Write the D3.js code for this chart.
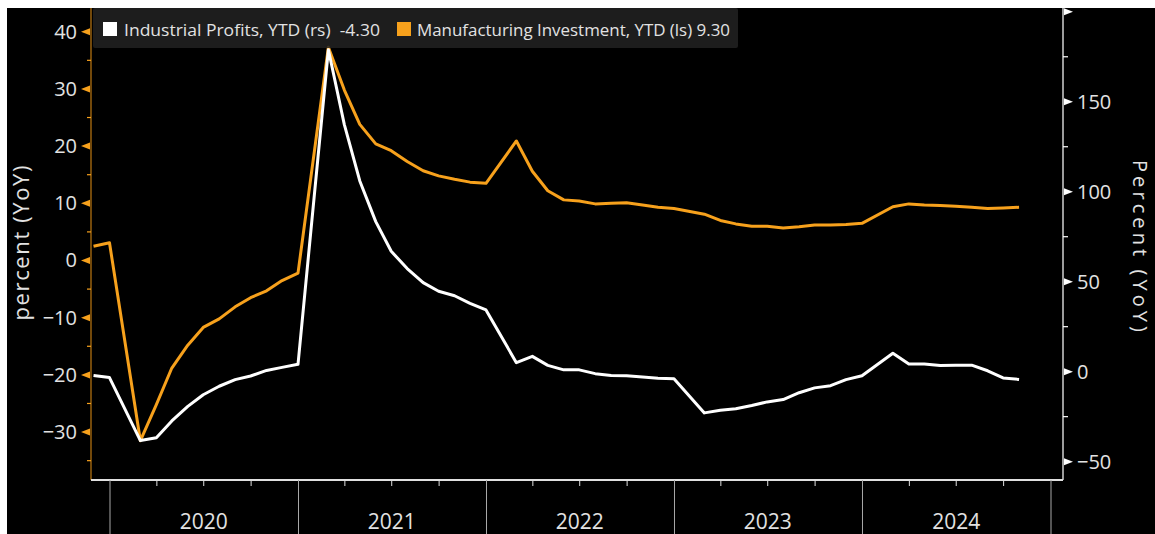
<!DOCTYPE html>
<html>
<head>
<meta charset="utf-8">
<script src="https://cdn.jsdelivr.net/npm/d3@7"></script>
<style>
  body { margin: 0; background: #fff; }
  svg { display: block; }
  text { font-family: "Open Sans", "Noto Sans", sans-serif; fill: #e2e2e2; }
</style>
</head>
<body>
<svg id="chart" width="1155" height="534"></svg>
<script>
// YTD readings, Jan is folded into Feb so there is no Jan point
const months = [
  "2019-11", "2019-12",
  "2020-02", "2020-03", "2020-04", "2020-05", "2020-06", "2020-07", "2020-08", "2020-09", "2020-10", "2020-11", "2020-12",
  "2021-02", "2021-03", "2021-04", "2021-05", "2021-06", "2021-07", "2021-08", "2021-09", "2021-10", "2021-11", "2021-12",
  "2022-02", "2022-03", "2022-04", "2022-05", "2022-06", "2022-07", "2022-08", "2022-09", "2022-10", "2022-11", "2022-12",
  "2023-02", "2023-03", "2023-04", "2023-05", "2023-06", "2023-07", "2023-08", "2023-09", "2023-10", "2023-11", "2023-12",
  "2024-02", "2024-03", "2024-04", "2024-05", "2024-06", "2024-07", "2024-08", "2024-09", "2024-10"
];
// Industrial Profits, YTD (right scale)
const profits = [
  -2.1, -3.3,
  -38.3, -36.7, -27.4, -19.3, -12.8, -8.1, -4.4, -2.4, 0.7, 2.4, 4.1,
  178.9, 137.3, 106.0, 83.4, 66.9, 57.3, 49.5, 44.7, 42.2, 38.0, 34.3,
  5.0, 8.5, 3.5, 1.0, 1.0, -1.1, -2.1, -2.3, -3.0, -3.6, -4.0,
  -22.9, -21.4, -20.6, -18.8, -16.8, -15.5, -11.7, -9.0, -7.8, -4.4, -2.3,
  10.2, 4.3, 4.3, 3.4, 3.5, 3.6, 0.5, -3.5, -4.3
];
// Manufacturing Investment, YTD (left scale)
const mfgInv = [
  2.5, 3.1,
  -31.5, -25.2, -18.8, -14.8, -11.7, -10.2, -8.1, -6.5, -5.3, -3.5, -2.2,
  37.3, 29.8, 23.8, 20.4, 19.2, 17.3, 15.7, 14.8, 14.2, 13.7, 13.5,
  20.9, 15.6, 12.2, 10.6, 10.4, 9.9, 10.0, 10.1, 9.7, 9.3, 9.1,
  8.1, 7.0, 6.4, 6.0, 6.0, 5.7, 5.9, 6.2, 6.2, 6.3, 6.5,
  9.4, 9.9, 9.7, 9.6, 9.5, 9.3, 9.1, 9.2, 9.3
];
const leftTicks = [40, 30, 20, 10, 0, -10, -20, -30];
const leftMinor = [35, 25, 15, 5, -5, -15, -25, -35];
const rightTicks = [200, 150, 100, 50, 0, -50];
const rightMinor = [175, 125, 75, 25, -25];
const years = ["2020", "2021", "2022", "2023", "2024"];

const orange = "#f7a11c";
const W = 1155, H = 534;
const pTop = 8, pBottom = 480, pLeft = 91, pRight = 1063;

const svg = d3.select("#chart");
svg.append("rect").attr("x", 7).attr("y", 8).attr("width", W - 7).attr("height", H - 8).attr("fill", "#000");

const parseMonth = d3.timeParse("%Y-%m");
const dates = months.map(m => d3.timeDay.offset(d3.timeMonth.offset(parseMonth(m), 1), -1));

const x = d3.scaleTime().domain([new Date(2020, 0, 1), new Date(2025, 0, 1)]).range([110, 1051]);
const yL = d3.scaleLinear().domain([-38.38, 44.15]).range([pBottom, pTop]);
const yR = d3.scaleLinear().domain([-60.2, 202.1]).range([pBottom, pTop]);

// lines
const lineL = d3.line().x((d, i) => x(dates[i])).y(d => yL(d));
const lineR = d3.line().x((d, i) => x(dates[i])).y(d => yR(d));
svg.append("path").datum(mfgInv).attr("d", lineL)
  .attr("fill", "none").attr("stroke", orange).attr("stroke-width", 3).attr("stroke-linejoin", "round");
svg.append("path").datum(profits).attr("d", lineR)
  .attr("fill", "none").attr("stroke", "#fff").attr("stroke-width", 3).attr("stroke-linejoin", "round");

// left axis
const gl = svg.append("g").attr("transform", `translate(${pLeft},0)`)
  .call(d3.axisLeft(yL).tickValues(leftTicks).tickSize(0).tickPadding(14));
gl.select(".domain").remove();
gl.selectAll("text").style("font-size", "20px").attr("fill", "#e2e2e2");
svg.append("line").attr("x1", pLeft).attr("x2", pLeft).attr("y1", pTop).attr("y2", pBottom)
  .attr("stroke", "#c07a12").attr("stroke-width", 1.2);
svg.selectAll(".ltri").data(leftTicks).enter().append("path")
  .attr("d", d => `M${pLeft - 1},${yL(d) - 3.5}L${pLeft - 10},${yL(d)}L${pLeft - 1},${yL(d) + 3.5}Z`)
  .attr("fill", orange);
svg.selectAll(".lmin").data(leftMinor).enter().append("line")
  .attr("x1", pLeft - 4).attr("x2", pLeft).attr("y1", d => yL(d)).attr("y2", d => yL(d))
  .attr("stroke", orange).attr("stroke-width", 1.2);

// right axis
const gr = svg.append("g").attr("transform", `translate(${pRight},0)`)
  .call(d3.axisRight(yR).tickValues(rightTicks.filter(d => d < 200)).tickSize(0).tickPadding(14));
gr.select(".domain").remove();
gr.selectAll("text").style("font-size", "20px").attr("fill", "#e2e2e2");
svg.append("line").attr("x1", pRight).attr("x2", pRight).attr("y1", pTop).attr("y2", pBottom)
  .attr("stroke", "#d0d0d0").attr("stroke-width", 1.5);
svg.selectAll(".rtri").data(rightTicks).enter().append("path")
  .attr("d", d => `M${pRight + 1},${yR(d) - 3.5}L${pRight + 10},${yR(d)}L${pRight + 1},${yR(d) + 3.5}Z`)
  .attr("fill", "#fff");
svg.selectAll(".rmin").data(rightMinor).enter().append("line")
  .attr("x1", pRight).attr("x2", pRight + 5).attr("y1", d => yR(d)).attr("y2", d => yR(d))
  .attr("stroke", "#fff").attr("stroke-width", 1.2);

// bottom axis
svg.append("line").attr("x1", pLeft).attr("x2", pRight).attr("y1", pBottom).attr("y2", pBottom)
  .attr("stroke", "#e0e0e0").attr("stroke-width", 2);
const quarters = d3.timeMonth.every(3).range(new Date(2020, 0, 1), new Date(2025, 0, 1))
  .filter(d => d.getMonth() !== 0);
svg.selectAll(".qt").data(quarters).enter().append("line")
  .attr("x1", d => x(d)).attr("x2", d => x(d)).attr("y1", pBottom).attr("y2", pBottom + 6)
  .attr("stroke", "#e0e0e0").attr("stroke-width", 1);
const yearStarts = d3.timeYear.range(new Date(2020, 0, 1), new Date(2026, 0, 1));
svg.selectAll(".yt").data(yearStarts).enter().append("line")
  .attr("x1", d => x(d)).attr("x2", d => x(d)).attr("y1", pBottom).attr("y2", H)
  .attr("stroke", "#a8a8a8").attr("stroke-width", 1);
svg.selectAll(".yl").data(years).enter().append("text")
  .attr("x", d => x(new Date(+d, 6, 1)))
  .attr("y", 529)
  .attr("text-anchor", "middle")
  .style("font-size", "21px")
  .text(d => d);

// axis titles
svg.append("text").attr("transform", "translate(29,243) rotate(-90)")
  .attr("text-anchor", "middle").style("font-size", "22px")
  .attr("textLength", 155).attr("lengthAdjust", "spacing").text("percent (YoY)");
svg.append("text").attr("transform", "translate(1133,246) rotate(90)")
  .attr("text-anchor", "middle").style("font-size", "20px")
  .attr("textLength", 172).attr("lengthAdjust", "spacing").text("Percent (YoY)");

// legend
svg.append("rect").attr("x", 93).attr("y", 8).attr("width", 645).attr("height", 40).attr("rx", 2)
  .attr("fill", "rgba(34,34,34,0.85)");
const legend = [
  { sq: 103, tx: 124, w: 256, color: "#fff", label: "Industrial Profits, YTD (rs)  " + profits[profits.length - 1].toFixed(2) },
  { sq: 397, tx: 417, w: 313, color: orange, label: "Manufacturing Investment, YTD (ls) " + mfgInv[mfgInv.length - 1].toFixed(2) }
];
legend.forEach(l => {
  svg.append("rect").attr("x", l.sq).attr("y", 22).attr("width", 14).attr("height", 14).attr("fill", l.color);
  svg.append("text").attr("x", l.tx).attr("y", 36)
    .style("font-size", "16px").style("white-space", "pre")
    .attr("textLength", l.w).attr("lengthAdjust", "spacingAndGlyphs")
    .attr("fill", "#dcdcdc").text(l.label);
});
</script>
</body>
</html>
